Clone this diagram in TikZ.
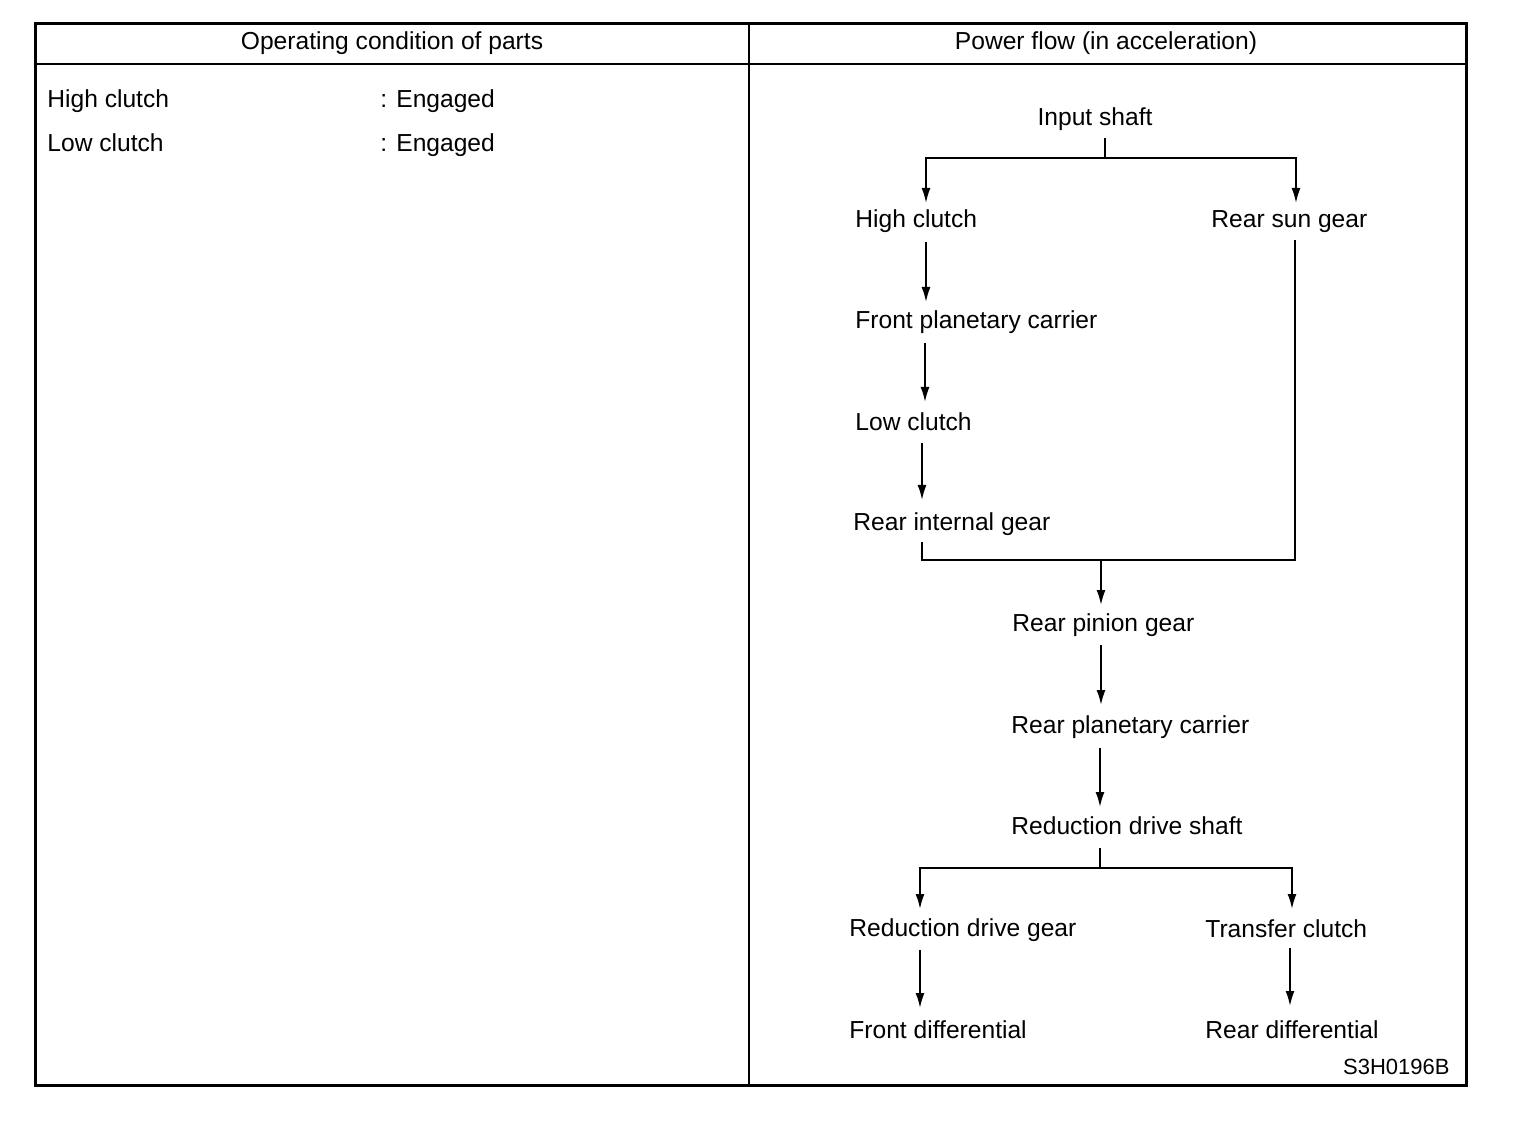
\documentclass[tikz,border=0pt]{standalone}
\usepackage{fontspec}
\setmainfont{Liberation Sans}
\usetikzlibrary{arrows.meta}
\begin{document}
\begin{tikzpicture}[x=0.5pt,y=-0.5pt,
  lbl/.style={inner sep=0pt,text height=8.8pt,text depth=0pt,font=\fontsize{12.3pt}{14pt}\selectfont},
  codelbl/.style={inner sep=0pt,text height=8pt,text depth=0pt,font=\fontsize{11pt}{13pt}\selectfont},
  flow/.style={line width=0.9pt},
  arr/.style={line width=0.9pt,-{Latex[length=7.5pt,width=4.5pt]}},
  frame/.style={line width=1.5pt},
  rule/.style={line width=1pt}]
\useasboundingbox (0,0) rectangle (1520,1122);
% table
\draw[frame] (35,24) rectangle (1466,1085);
\draw[rule] (35,64) -- (1466,64);
\draw[rule] (749,24) -- (749,1085);
\node[lbl] (h1) at (392,41) {Operating condition of parts};
\node[lbl] (h2) at (1106,41) {Power flow (in acceleration)};
% left column
\node[lbl,anchor=west] (l1) at (47,99) {High clutch};
\node[lbl,anchor=west] (l1e) at (380,99) {: Engaged};
\node[lbl,anchor=west] (l2) at (47,143) {Low clutch};
\node[lbl,anchor=west] (l2e) at (380,143) {: Engaged};
% flow nodes
\node[lbl] (ins) at (1095,117) {Input shaft};
\node[lbl,anchor=west] (hc) at (855,219) {High clutch};
\node[lbl,anchor=west] (rsg) at (1211,219) {Rear sun gear};
\node[lbl,anchor=west] (fpc) at (855,320) {Front planetary carrier};
\node[lbl,anchor=west] (lc) at (855,422) {Low clutch};
\node[lbl,anchor=west] (rig) at (853,522) {Rear internal gear};
\node[lbl,anchor=west] (rpg) at (1012,623) {Rear pinion gear};
\node[lbl,anchor=west] (rpc) at (1011,725) {Rear planetary carrier};
\node[lbl,anchor=west] (rds) at (1011,826) {Reduction drive shaft};
\node[lbl,anchor=west] (rdg) at (849,928) {Reduction drive gear};
\node[lbl,anchor=west] (tc) at (1205,929) {Transfer clutch};
\node[lbl,anchor=west] (fd) at (849,1030) {Front differential};
\node[lbl,anchor=west] (rd) at (1205,1030) {Rear differential};
\node[codelbl,anchor=east] (code) at (1450,1066) {S3H0196B};
% junctions
\coordinate (j1) at (1105,158);
\coordinate (j2) at (1101,560);
\coordinate (j3) at (1100,868);
% connectors
\draw[flow] ([shift={(10,21)}]ins.center) -- (j1);
\draw[arr] (j1) -| ([shift={(71,-16)}]hc.west);
\draw[arr] (j1) -| ([shift={(85,-16)}]rsg.west);
\draw[arr] ([shift={(71,23)}]hc.west) -- ([shift={(71,-18)}]fpc.west);
\draw[arr] ([shift={(70,23)}]fpc.west) -- ([shift={(70,-20)}]lc.west);
\draw[arr] ([shift={(67,21)}]lc.west) -- ([shift={(69,-22)}]rig.west);
\draw[flow] ([shift={(69,20)}]rig.west) |- (j2);
\draw[flow] ([shift={(84,21)}]rsg.west) |- (j2);
\draw[arr] (j2) -- ([shift={(89,-18)}]rpg.west);
\draw[arr] ([shift={(89,22)}]rpg.west) -- ([shift={(90,-20)}]rpc.west);
\draw[arr] ([shift={(89,23)}]rpc.west) -- ([shift={(89,-19)}]rds.west);
\draw[flow] ([shift={(89,22)}]rds.west) -- (j3);
\draw[arr] (j3) -| ([shift={(71,-19)}]rdg.west);
\draw[arr] (j3) -| ([shift={(87,-20)}]tc.west);
\draw[arr] ([shift={(71,22)}]rdg.west) -- ([shift={(71,-22)}]fd.west);
\draw[arr] ([shift={(85,19)}]tc.west) -- ([shift={(85,-24)}]rd.west);
\end{tikzpicture}
\end{document}
